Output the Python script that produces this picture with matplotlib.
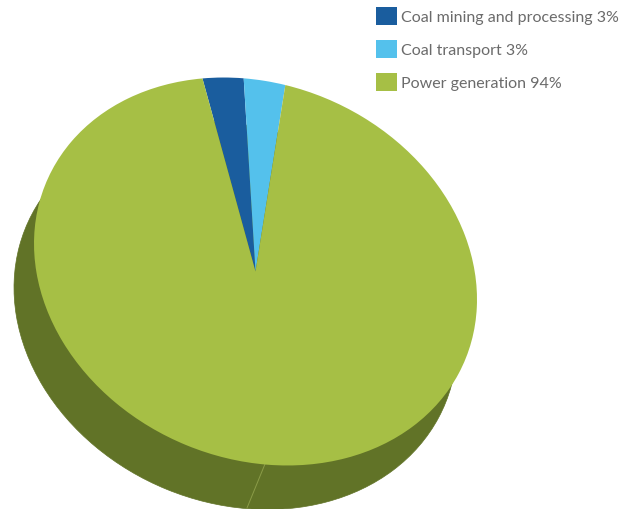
import matplotlib
matplotlib.use('Agg')
import matplotlib.pyplot as plt
from matplotlib.patches import Patch
from matplotlib.transforms import Affine2D

labels = ['Coal mining and processing 3%', 'Coal transport 3%', 'Power generation 94%']
shares = [3, 3, 94]
colors = ['#1a5d9e', '#54c1ec', '#a6bf45']
side_color = '#617327'
seam_color = '#8b9c48'

W, H = 627, 510
fig = plt.figure(figsize=(W / 100, H / 100), dpi=100)
ax = fig.add_axes([0, 0, 1, 1])


# Unit pie squashed and turned so it looks tilted
def tilt(dx=0, dy=0):
    return (Affine2D().scale(227.5, 186.9).rotate_deg(-23.6)
            .translate(255.5 + dx, 237.5 + dy) + ax.transData)


# Side of the pie: same pie pushed down to the lower left
wedges, _ = ax.pie(shares, colors=[side_color] * 3, startangle=123.6, counterclock=False,
                   center=(0, 0), radius=1, frame=False)
for w in wedges:
    w.set_transform(tilt(-20, -44))
    w.set_edgecolor(side_color)
    w.set_linewidth(0.5)

# Seam on the side wall
ax.plot([265, 247], [45, 1], color=seam_color, lw=0.7, zorder=2)

wedges, _ = ax.pie(shares, colors=colors, startangle=123.6, counterclock=False,
                   center=(0, 0), radius=1, frame=False)
for w in wedges:
    w.set_transform(tilt())
    w.set_zorder(3)

ax.set_aspect('auto')
ax.set_xlim(0, W)
ax.set_ylim(0, H)
ax.axis('off')

handles = [Patch(color=c, lw=0) for c in colors]
ax.legend(handles, labels, loc='upper left', bbox_to_anchor=(376 / W, 1 - 8 / H),
          frameon=False, borderaxespad=0, borderpad=0,
          handlelength=1.31, handleheight=1.354, handletextpad=0.25, labelspacing=0.94,
          labelcolor='#6b6b6b', prop={'family': 'Lato', 'size': 11.5})

fig.savefig('out.png', dpi=100)
